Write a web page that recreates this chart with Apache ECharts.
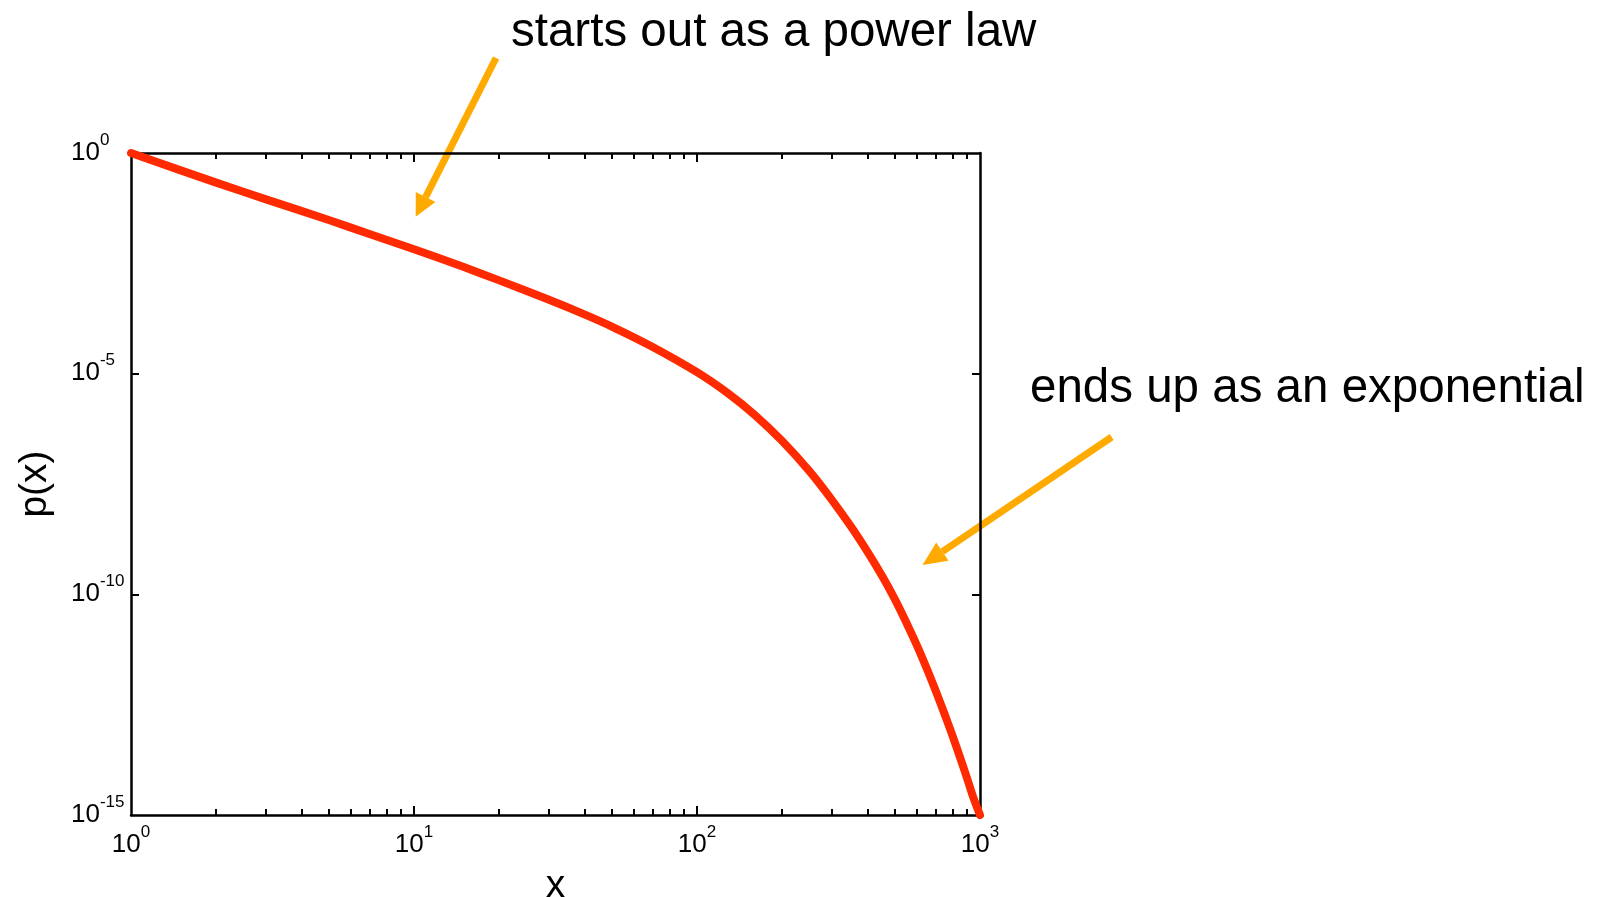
<!DOCTYPE html>
<html>
<head>
<meta charset="utf-8">
<script src="https://cdn.jsdelivr.net/npm/echarts@6/dist/echarts.min.js"></script>
<style>
  html, body { margin: 0; padding: 0; background: #fff; }
  #main { width: 1606px; height: 897px; }
</style>
</head>
<body>
<div id="main"></div>
<script>
// points (x, p(x))
var xValues = [1, 2, 3, 5, 7, 10, 15, 20, 30, 40, 50, 70, 100, 130, 160, 200, 250, 300,
  350, 400, 450, 500, 550, 600, 650, 700, 750, 800, 850, 900, 950, 1000];
var pValues = [1, 2.13e-1, 8.91e-2, 3.03e-2, 1.44e-2, 6.61e-3, 2.60e-3, 1.30e-3, 4.73e-4,
  2.21e-4, 1.17e-4, 3.98e-5, 1.08e-5, 3.42e-6, 1.16e-6, 2.98e-7, 6.11e-8, 1.37e-8,
  3.43e-9, 9.27e-10, 2.67e-10, 7.80e-11, 2.25e-11, 6.73e-12, 2.01e-12, 6.14e-13,
  1.92e-13, 6.18e-14, 2.02e-14, 6.81e-15, 2.36e-15, 1e-15];

var xLabelValues = [1, 10, 100, 1000];
var xMajorTicks = [10, 100];
var xMinorTicks = [2, 3, 4, 5, 6, 7, 8, 9, 20, 30, 40, 50, 60, 70, 80, 90,
  200, 300, 400, 500, 600, 700, 800, 900];
var yLabelValues = [1e-15, 1e-10, 1e-5, 1];
var yTicks = [1e-10, 1e-5];

var FONT = '"Liberation Sans", Arial, Helvetica, sans-serif';
var ORANGE = '#ffaa00';

var chart = echarts.init(document.getElementById('main'));

function powLabel(v) {
  var e = Math.round(Math.log10(v));
  return '{b|10}{s|' + e + '}';
}
var labelRich = {
  b: { fontSize: 26, fontFamily: FONT, color: '#000', lineHeight: 34, verticalAlign: 'bottom' },
  s: { fontSize: 17, fontFamily: FONT, color: '#000', lineHeight: 12, verticalAlign: 'top' }
};

function xAxis(pos, ticks, len, line, labels) {
  return {
    type: 'log', logBase: 10, min: 1, max: 1000, position: pos,
    axisLine: { show: line, lineStyle: { color: '#000', width: 2.5 } },
    axisTick: { show: true, inside: true, length: len, customValues: ticks,
      lineStyle: { color: '#000', width: 2 } },
    axisLabel: labels ? {
      show: true, customValues: xLabelValues, margin: 9,
      formatter: powLabel, rich: labelRich
    } : { show: false },
    splitLine: { show: false },
    minorTick: { show: false }
  };
}

function yAxis(pos, labels) {
  return {
    type: 'log', logBase: 10, min: 1e-15, max: 1, position: pos,
    axisLine: { show: true, lineStyle: { color: '#000', width: 2.5 } },
    axisTick: { show: true, inside: true, length: 8, customValues: yTicks,
      lineStyle: { color: '#000', width: 2 } },
    axisLabel: labels ? {
      show: true, customValues: yLabelValues, margin: 60, align: 'left',
      padding: [0, 0, 9, 0], formatter: powLabel, rich: labelRich
    } : { show: false },
    splitLine: { show: false }
  };
}

var xs = [
  xAxis('bottom', xMajorTicks, 9, true, true),
  xAxis('bottom', xMinorTicks, 6, false, false),
  xAxis('top', xMajorTicks, 9, true, false),
  xAxis('top', xMinorTicks, 6, false, false)
];
xs[0].name = 'x';
xs[0].nameLocation = 'middle';
xs[0].nameGap = 52;
xs[0].nameTextStyle = { fontSize: 39, fontFamily: FONT, color: '#000' };

var ys = [yAxis('left', true), yAxis('right', false)];
ys[0].name = 'p(x)';
ys[0].nameLocation = 'middle';
ys[0].nameGap = 76;
ys[0].nameTextStyle = { fontSize: 39, fontFamily: FONT, color: '#000' };

var option = {
  animation: false,
  backgroundColor: '#fff',
  grid: { left: 131, right: 626, top: 153, bottom: 82, containLabel: false, outerBoundsMode: 'none' },
  xAxis: xs,
  yAxis: ys,
  series: [{
    type: 'line',
    xAxisIndex: 0,
    yAxisIndex: 0,
    data: xValues.map(function (x, i) { return [x, pValues[i]]; }),
    showSymbol: false,
    smooth: 0.3,
    clip: false,
    lineStyle: { color: '#ff2a00', width: 8, cap: 'round', join: 'round' }
  }],
  graphic: [
    { type: 'text', x: 511, y: 33,
      style: { text: 'starts out as a power law', fill: '#000', fontSize: 47.5, fontFamily: FONT,
        align: 'left', verticalAlign: 'middle' } },
    { type: 'text', x: 1030, y: 389,
      style: { text: 'ends up as an exponential', fill: '#000', fontSize: 47.5, fontFamily: FONT,
        align: 'left', verticalAlign: 'middle' } },
    // arrow 1
    { type: 'line', shape: { x1: 496, y1: 58, x2: 425.6, y2: 197.1 },
      style: { stroke: ORANGE, lineWidth: 7 } },
    { type: 'polygon', shape: { points: [[415.7, 216.7], [435.4, 202.1], [415.8, 192.1]] },
      style: { fill: ORANGE } },
    // arrow 2
    { type: 'line', shape: { x1: 1111.7, y1: 437, x2: 942.4, y2: 551.6 },
      style: { stroke: ORANGE, lineWidth: 7 } },
    { type: 'polygon', shape: { points: [[922.5, 565], [948.6, 560.7], [936.2, 542.5]] },
      style: { fill: ORANGE } }
  ]
};
chart.setOption(option);
</script>
</body>
</html>
